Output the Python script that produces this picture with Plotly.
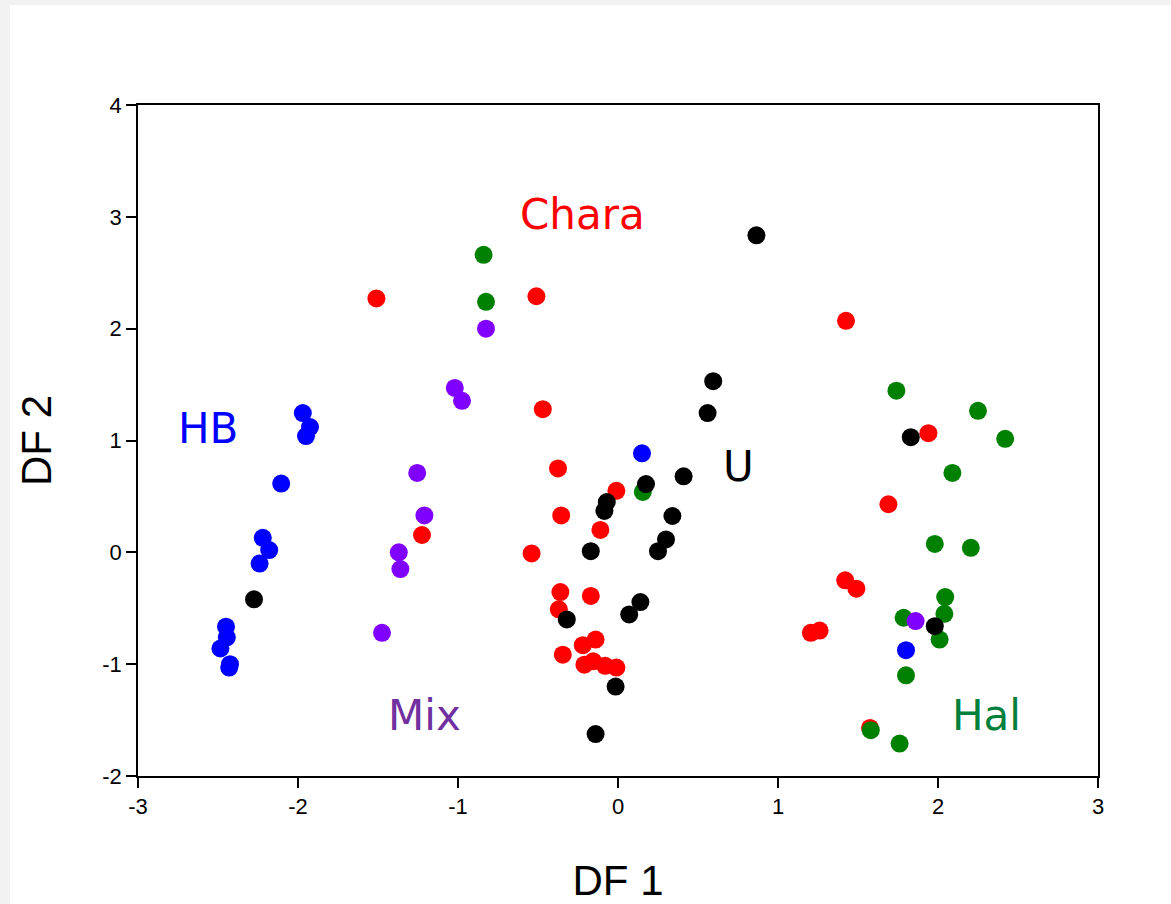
import plotly.graph_objects as go

# ---- data (DF1, DF2) per group ----
chara_x = [-1.51, -0.51, -0.47, -0.375, -0.355, -0.54, -0.01, -0.11, -1.225, -0.36, -0.37,
           -0.17, -0.345, -0.22, -0.14, -0.21, -0.155, -0.08, -0.01,
           1.425, 1.94, 1.69, 1.42, 1.49, 1.205, 1.26, 1.575]
chara_y = [2.27, 2.29, 1.28, 0.75, 0.33, -0.01, 0.55, 0.20, 0.155, -0.355, -0.51,
           -0.39, -0.915, -0.83, -0.78, -1.005, -0.975, -1.015, -1.03,
           2.07, 1.065, 0.43, -0.25, -0.325, -0.72, -0.70, -1.57]

hal_x = [-0.84, -0.825, 0.155, 1.74, 2.25, 2.42, 2.09, 1.98, 2.205, 2.045, 2.04,
         1.785, 2.01, 1.80, 1.58, 1.76]
hal_y = [2.66, 2.24, 0.54, 1.445, 1.265, 1.015, 0.71, 0.075, 0.04, -0.40, -0.55,
         -0.585, -0.78, -1.10, -1.59, -1.71]

mix_x = [-0.825, -1.02, -0.975, -1.255, -1.21, -1.37, -1.36, -1.475, 1.86]
mix_y = [2.00, 1.47, 1.355, 0.71, 0.33, 0.00, -0.15, -0.72, -0.615]

hb_x = [-1.97, -1.925, -1.95, -2.105, -2.22, -2.18, -2.24, -2.45, -2.445, -2.485,
        -2.425, -2.43, 0.15, 1.80]
hb_y = [1.245, 1.12, 1.04, 0.615, 0.13, 0.02, -0.10, -0.665, -0.76, -0.86,
        -1.00, -1.03, 0.885, -0.875]

u_x = [0.865, 0.595, 0.56, 1.83, 0.41, 0.175, -0.07, -0.085, 0.34, 0.30, 0.25,
       -0.17, 0.14, 0.07, -0.32, -0.015, -0.14, -2.275, 1.98]
u_y = [2.835, 1.53, 1.245, 1.03, 0.68, 0.61, 0.45, 0.37, 0.325, 0.115, 0.01,
       0.01, -0.445, -0.555, -0.60, -1.20, -1.625, -0.42, -0.66]

groups = ["Chara", "Hal", "Mix", "HB", "U"]
marker_colors = ["#ff0000", "#008000", "#8000ff", "#0000ff", "#000000"]
label_colors = ["#ff0000", "#00803c", "#7030a0", "#0000ff", "#000000"]
label_x = [-0.22, 2.30, -1.21, -2.565, 0.75]
label_y = [3.025, -1.46, -1.456, 1.11, 0.77]

x_ticks = [-3, -2, -1, 0, 1, 2, 3]
x_tick_text = ["-3", "-2", "-1", "0", "1", "2", "3"]
y_ticks = [-2, -1, 0, 1, 2, 3, 4]
y_tick_text = ["-2", "-1", "0", "1", "2", "3", "4"]

series = [(chara_x, chara_y), (hal_x, hal_y), (mix_x, mix_y), (hb_x, hb_y), (u_x, u_y)]

fig = go.Figure()
for (xs, ys), name, col in zip(series, groups, marker_colors):
    fig.add_trace(go.Scatter(x=xs, y=ys, mode="markers", name=name,
                             marker=dict(color=col, size=18, line=dict(width=0))))

label_font = "DejaVu Sans, sans-serif"
for name, col, lx, ly in zip(groups, label_colors, label_x, label_y):
    fig.add_annotation(x=lx, y=ly, text=name, showarrow=False,
                       font=dict(family=label_font, size=42, color=col),
                       xanchor="center", yanchor="middle")

# white panel on light-gray page (panel starts 10px from left, 5px from top)
PL, PR, PT, PB = 138, 73, 105, 128
W, H = 1171, 904
pw, ph = W - PL - PR, H - PT - PB
fig.add_shape(type="rect", xref="paper", yref="paper",
              x0=(10 - PL) / pw, x1=(W + 20 - PL) / pw,
              y0=-(PB + 20) / ph, y1=(H - PB - 5) / ph,
              fillcolor="white", line=dict(width=0), layer="below")

sans = "Liberation Sans, Arial, sans-serif"
axis_common = dict(showgrid=False, zeroline=False, showline=True, linecolor="black",
                   linewidth=1.5, mirror=True, ticks="outside", ticklen=10,
                   tickwidth=1.5, tickcolor="black",
                   tickfont=dict(family=sans, size=22, color="black"))

fig.update_xaxes(range=[-3, 3], tickvals=x_ticks, ticktext=x_tick_text,
                 title=dict(text="DF 1", standoff=53,
                            font=dict(family=sans, size=42, color="black")),
                 **axis_common)
fig.update_yaxes(range=[-2, 4], tickvals=y_ticks, ticktext=y_tick_text,
                 title=dict(text="DF 2", standoff=38,
                            font=dict(family=sans, size=42, color="black")),
                 **axis_common)

fig.update_layout(width=W, height=H, showlegend=False,
                  paper_bgcolor="#f2f2f2", plot_bgcolor="white",
                  margin=dict(l=PL, r=PR, t=PT, b=PB, autoexpand=False))

fig.write_html("out.html", config={"displayModeBar": False},
               post_script="document.body.style.margin='0';document.body.style.background='#f2f2f2';document.body.style.overflow='hidden';")
